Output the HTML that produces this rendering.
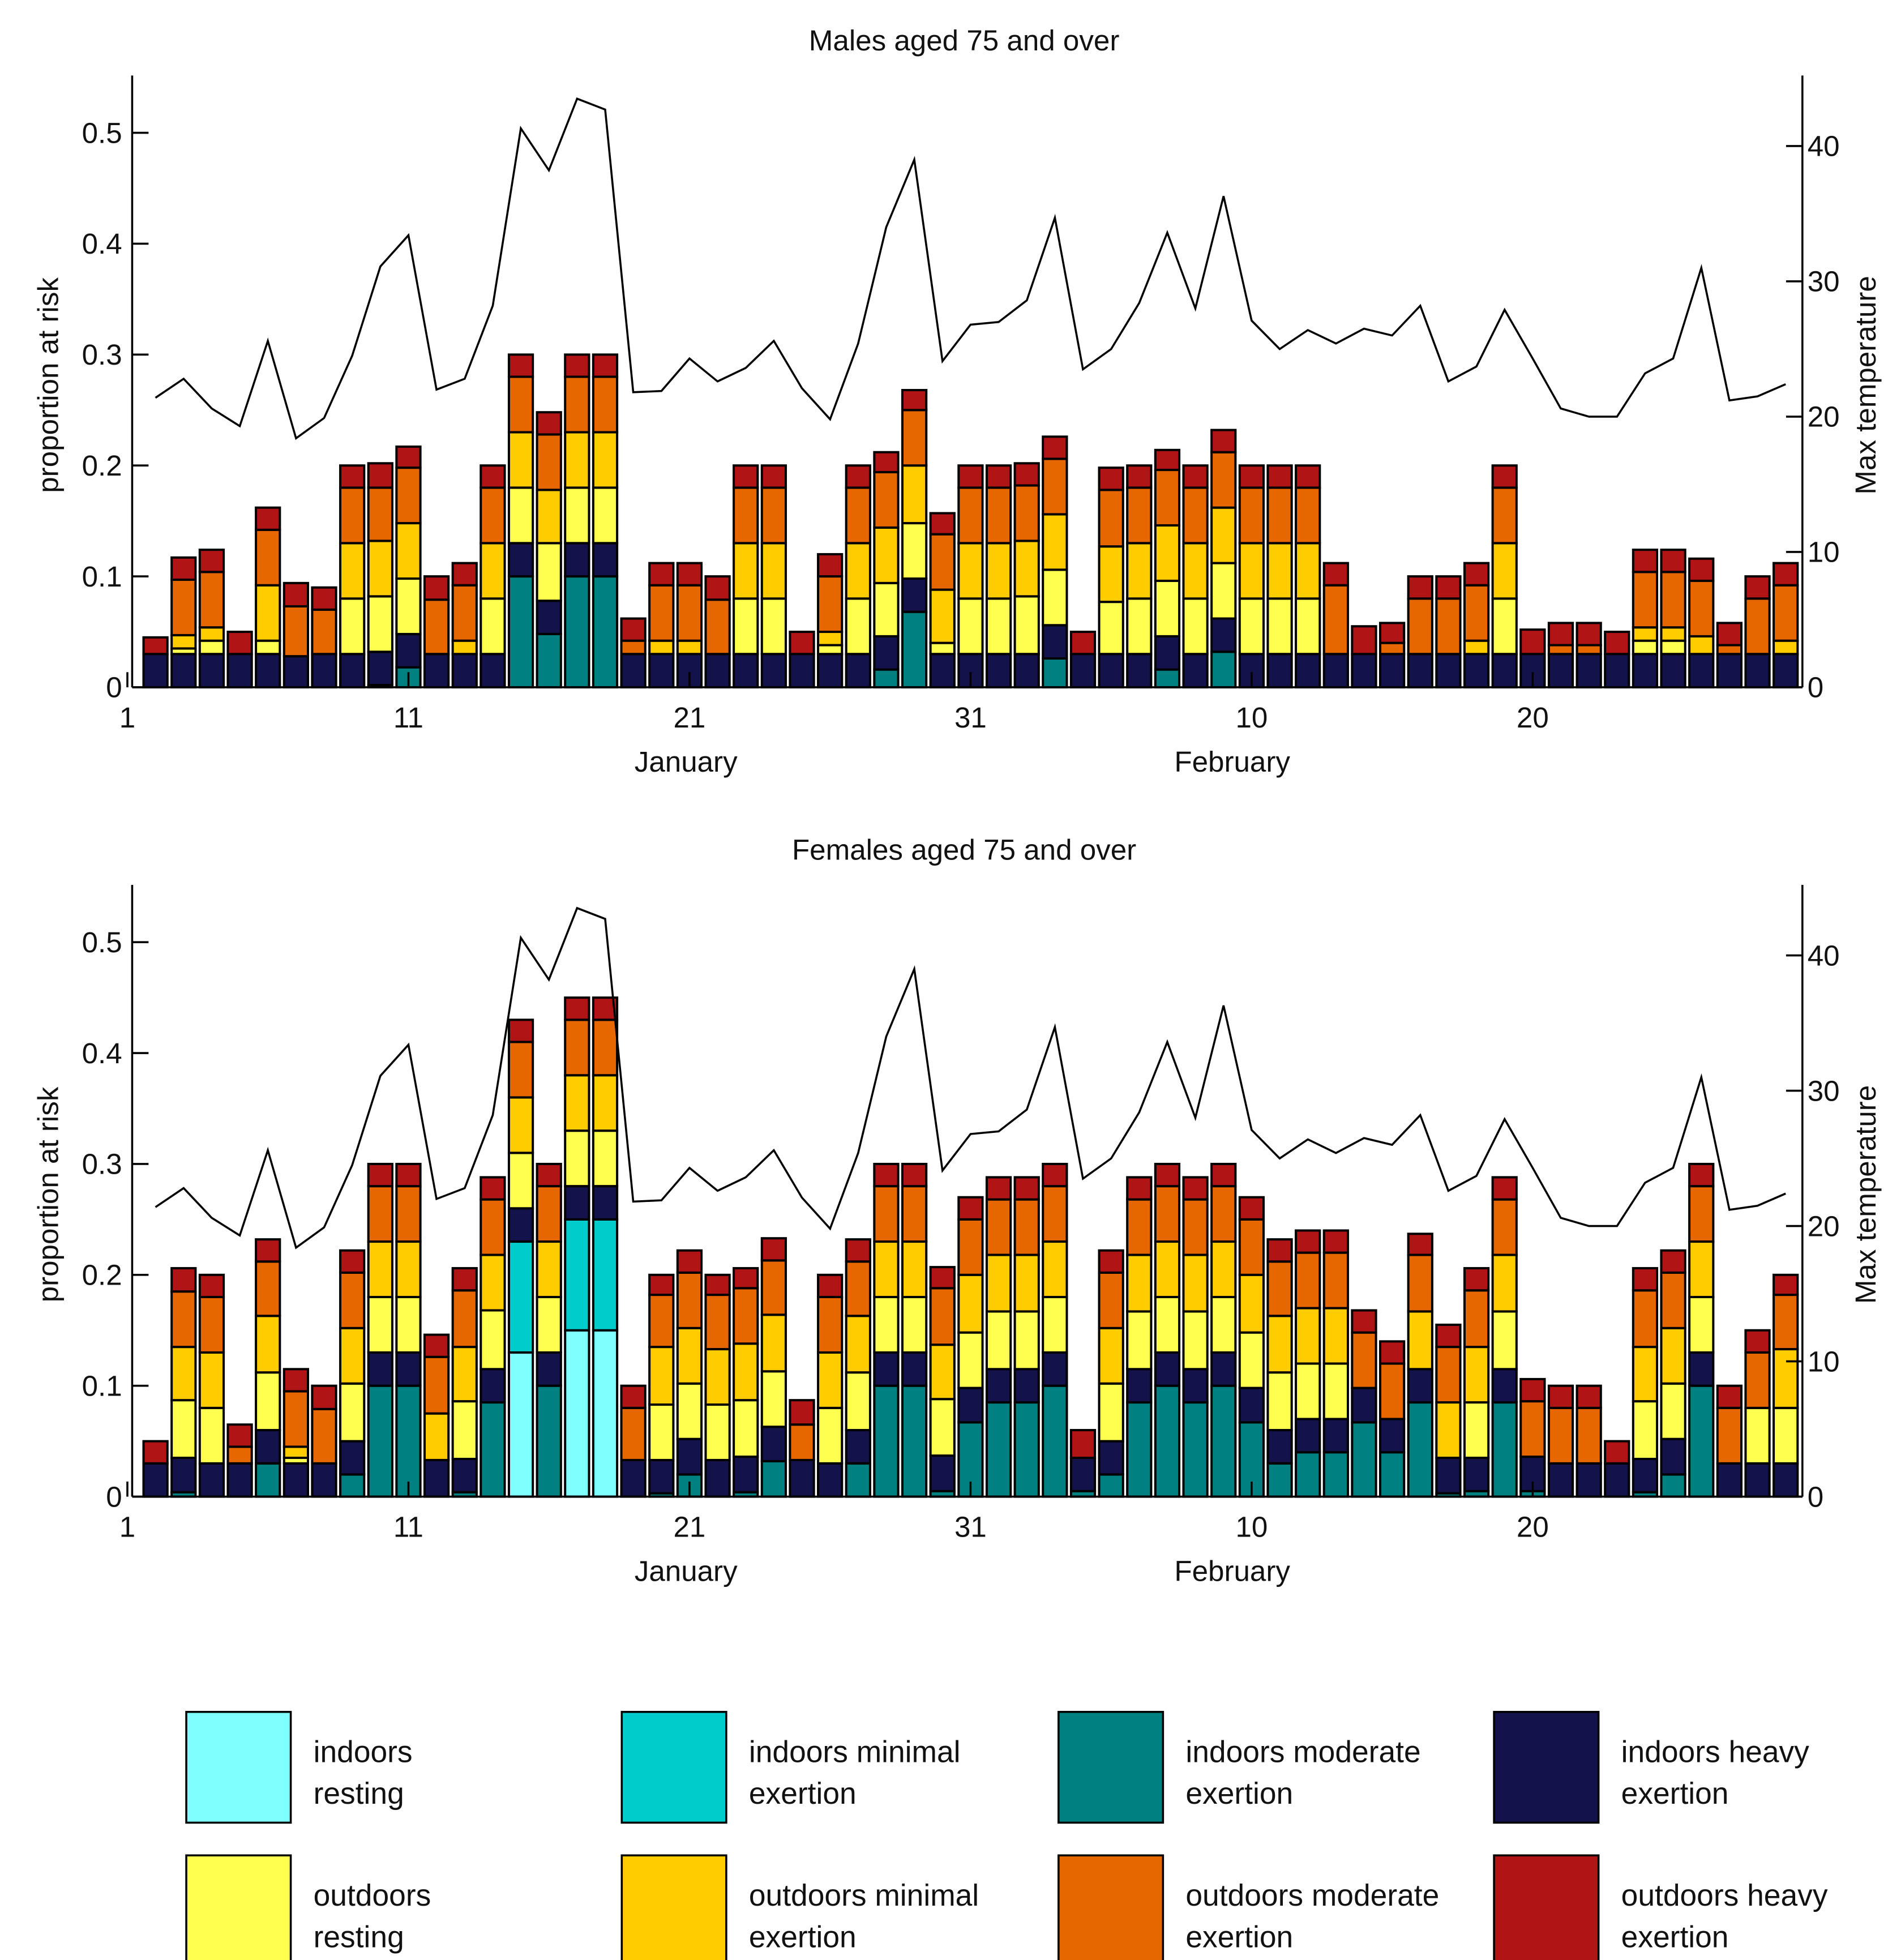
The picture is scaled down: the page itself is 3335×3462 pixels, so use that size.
<!DOCTYPE html>
<html><head><meta charset="utf-8"><style>
html,body{margin:0;padding:0;background:#fff}
svg{display:block}
text{font-family:"Liberation Sans",sans-serif;fill:#111}
</style></head>
<body>
<svg id="chart" width="3335" height="3462" viewBox="0 0 1500 1557.1" xmlns="http://www.w3.org/2000/svg">
<rect x="0" y="0" width="1500" height="1557.1" fill="#fff"/>
</svg>
<script>
// ---------- data ----------
const days = [];
for (let d = 2; d <= 60; d++) days.push(d);
const temps = [21.4,22.8,20.6,19.3,25.6,18.4,19.9,24.5,31.1,33.4,22.0,22.8,28.2,41.3,38.2,43.5,42.7,21.8,21.9,24.3,22.6,23.6,25.6,22.1,19.8,25.4,34.0,39.0,24.1,26.8,27.0,28.6,34.7,23.5,25.0,28.4,33.6,28.0,36.3,27.1,25.0,26.4,25.4,26.5,26.0,28.2,22.6,23.7,27.9,24.3,20.6,20.0,20.0,23.2,24.3,31.0,21.2,21.5,22.4];
const seriesNames = ["indoors resting","indoors minimal exertion","indoors moderate exertion","indoors heavy exertion","outdoors resting","outdoors minimal exertion","outdoors moderate exertion","outdoors heavy exertion"];
const seriesColors = ["#80ffff","#00cccc","#008080","#13124a","#ffff50","#ffcc00","#e66600","#b01414"];
const leftTicks = [0,0.1,0.2,0.3,0.4,0.5];
const leftTickLabels = ["0","0.1","0.2","0.3","0.4","0.5"];
const rightTicks = [0,10,20,30,40];
const xTicks = [1,11,21,31,41,51];
const xTickLabels = ["1","11","21","31","10","20"];
const z10 = [0,0,0,0,0,0,0,0,0,0];

const mIRest = new Array(59).fill(0);
const mIMin = new Array(59).fill(0);
const mIMod = [0,0,0,0,0,0,0,0,.002,.018, 0,0,0,.1,.048,.1,.1,0,0,0, 0,0,0,0,0,0,.016,.068,0,0, 0,0,.026,0,0,0,.016,0,.032,0, 0,0,0,0,0,0,0,0,0,0, 0,0,0,0,0,0,0,0,0];
const mIHeavy = [.03,.03,.03,.03,.03,.028,.03,.03,.03,.03, .03,.03,.03,.03,.03,.03,.03,.03,.03,.03, .03,.03,.03,.03,.03,.03,.03,.03,.03,.03, .03,.03,.03,.03,.03,.03,.03,.03,.03,.03, .03,.03,.03,.03,.03,.03,.03,.03,.03,.03, .03,.03,.03,.03,.03,.03,.03,.03,.03];
const mORest = [0,.005,.012,0,.012,0,0,.05,.05,.05, 0,0,.05,.05,.052,.05,.05,0,0,0, 0,.05,.05,0,.008,.05,.048,.05,.01,.05, .05,.052,.05,0,.047,.05,.05,.05,.05,.05, .05,.05,0,0,0,0,0,0,.05,0, 0,0,0,.012,.012,0,0,0,0];
const mOMin = [0,.012,.012,0,.05,0,0,.05,.05,.05, 0,.012,.05,.05,.048,.05,.05,0,.012,.012, 0,.05,.05,0,.012,.05,.05,.052,.048,.05, .05,.05,.05,0,.05,.05,.05,.05,.05,.05, .05,.05,0,0,0,0,0,.012,.05,0, 0,0,0,.012,.012,.016,0,0,.012];
const mOMod = [0,.05,.05,0,.05,.045,.04,.05,.048,.05, .049,.05,.05,.05,.05,.05,.05,.012,.05,.05, .049,.05,.05,0,.05,.05,.05,.05,.05,.05, .05,.05,.05,0,.051,.05,.05,.05,.05,.05, .05,.05,.062,0,.01,.05,.05,.05,.05,0, .008,.008,0,.05,.05,.05,.008,.05,.05];
const mOHeavy = [.015,.02,.02,.02,.02,.021,.02,.02,.022,.019, .021,.02,.02,.02,.02,.02,.02,.02,.02,.02, .021,.02,.02,.02,.02,.02,.018,.018,.019,.02, .02,.02,.02,.02,.02,.02,.018,.02,.02,.02, .02,.02,.02,.025,.018,.02,.02,.02,.02,.022, .02,.02,.02,.02,.02,.02,.02,.02,.02];

const fIRest = [0,0,0,0,0,0,0,0,0,0, 0,0,0,.13,0,.15,.15,0,0,0, 0,0,0,0,0,0,0,0,0,0, 0,0,0,0,0,0,0,0,0,0, 0,0,0,0,0,0,0,0,0,0, 0,0,0,0,0,0,0,0,0];
const fIMin = [0,0,0,0,0,0,0,0,0,0, 0,0,0,.1,0,.1,.1,0,0,0, 0,0,0,0,0,0,0,0,0,0, 0,0,0,0,0,0,0,0,0,0, 0,0,0,0,0,0,0,0,0,0, 0,0,0,0,0,0,0,0,0];
const fIMod = [0,.004,0,0,.03,0,0,.02,.1,.1, 0,.004,.085,0,.1,0,0,0,.003,.02, 0,.004,.032,0,0,.03,.1,.1,.005,.067, .085,.085,.1,.005,.02,.085,.1,.085,.1,.067, .03,.04,.04,.067,.04,.085,.003,.005,.085,.005, 0,0,0,.004,.02,.1,0,0,0];
const fIHeavy = [.03,.031,.03,.03,.03,.03,.03,.03,.03,.03, .033,.03,.03,.03,.03,.03,.03,.033,.03,.032, .033,.032,.031,.033,.03,.03,.03,.03,.032,.031, .03,.03,.03,.03,.03,.03,.03,.03,.03,.031, .03,.03,.03,.031,.03,.03,.032,.03,.03,.031, .03,.03,.03,.03,.032,.03,.03,.03,.03];
const fORest = [0,.052,.05,0,.052,.005,0,.052,.05,.05, 0,.052,.053,.05,.05,.05,.05,0,.05,.05, .05,.051,.05,0,.05,.052,.05,.05,.051,.05, .052,.052,.05,0,.052,.052,.05,.052,.05,.05, .052,.05,.05,0,0,0,0,.05,.052,0, 0,0,0,.052,.05,.05,0,.05,.05];
const fOMin = [0,.048,.05,0,.051,.01,0,.05,.05,.05, .042,.049,.05,.05,.05,.05,.05,0,.052,.05, .05,.051,.051,0,.05,.051,.05,.05,.049,.052, .051,.051,.05,0,.05,.051,.05,.051,.05,.052, .051,.05,.05,0,0,.052,.05,.05,.051,0, 0,0,0,.049,.05,.05,0,0,.053];
const fOMod = [0,.05,.05,.015,.049,.05,.049,.05,.05,.05, .051,.051,.05,.05,.05,.05,.05,.047,.047,.05, .049,.05,.049,.032,.05,.049,.05,.05,.051,.05, .05,.05,.05,0,.05,.05,.05,.05,.05,.05, .049,.05,.05,.05,.05,.051,.05,.051,.05,.05, .05,.05,0,.051,.05,.05,.05,.05,.049];
const fOHeavy = [.02,.021,.02,.02,.02,.02,.021,.02,.02,.02, .02,.02,.02,.02,.02,.02,.02,.02,.018,.02, .018,.018,.02,.022,.02,.02,.02,.02,.019,.02, .02,.02,.02,.025,.02,.02,.02,.02,.02,.02, .02,.02,.02,.02,.02,.019,.02,.02,.02,.02, .02,.02,.02,.02,.02,.02,.02,.02,.018];

const maleSeries = [mIRest,mIMin,mIMod,mIHeavy,mORest,mOMin,mOMod,mOHeavy];
const femaleSeries = [fIRest,fIMin,fIMod,fIHeavy,fORest,fOMin,fOMod,fOHeavy];

// ---------- drawing ----------
const NS = "http://www.w3.org/2000/svg";
const svg = document.getElementById("chart");
function mk(tag, attrs, parent) {
  const e = document.createElementNS(NS, tag);
  for (const k in attrs) e.setAttribute(k, attrs[k]);
  (parent || svg).appendChild(e);
  return e;
}
const X0 = 105, X1 = 1432;
function xScale(d) { return 101.2 + (d - 1) * 22.33; }

function panel(key, title, seriesArr, y0) {
  const g = mk("g", {});
  
  
  const yS = v => y0 - v * 881;
  const yT = t => y0 - t * 10.75;
  const yTop = y0 - 486;
  // title
  const t = mk("text", {x: 766, y: y0 - 506, "font-size": 23, "text-anchor": "middle"}, g);
  t.textContent = title;
  
  
  // bars
  const bw = 19;
  days.forEach((d, i) => {
    let cum = 0;
    const cx = xScale(d);
    seriesArr.forEach((s, si) => {
      const v = s[i];
      if (v <= 0) return;
      const r = mk("rect", {x: cx - bw / 2, y: yS(cum + v), width: bw, height: yS(cum) - yS(cum + v), fill: seriesColors[si], stroke: "#000", "stroke-width": 1.8}, g);
      
      
      cum += v;
    });
  });
  // temperature line
  const pts = days.map((d, i) => xScale(d).toFixed(1) + "," + yT(temps[i]).toFixed(1)).join(" ");
  const line = mk("polyline", {points: pts, fill: "none", stroke: "#000", "stroke-width": 1.6}, g);
  
  
  // axes
  const ax = mk("g", {stroke: "#000", "stroke-width": 1.6}, g);
  
  
  mk("line", {x1: X0, y1: yTop, x2: X0, y2: y0}, ax);
  mk("line", {x1: X1, y1: yTop, x2: X1, y2: y0}, ax);
  mk("line", {x1: X0, y1: y0, x2: X1, y2: y0}, ax);
  leftTicks.forEach((v, i) => {
    mk("line", {x1: X0, y1: yS(v), x2: X0 + 13, y2: yS(v)}, ax);
    const tl = mk("text", {x: X0 - 8, y: yS(v) + 8, "font-size": 23, "text-anchor": "end", stroke: "none"}, g);
    tl.textContent = leftTickLabels[i];
    
    
  });
  rightTicks.forEach(v => {
    mk("line", {x1: X1 - 13, y1: yT(v), x2: X1, y2: yT(v)}, ax);
    const tl = mk("text", {x: X1 + 4, y: yT(v) + 8, "font-size": 23, stroke: "none"}, g);
    tl.textContent = String(v);
    
    
  });
  xTicks.forEach((d, i) => {
    mk("line", {x1: xScale(d), y1: y0, x2: xScale(d), y2: y0 - 12}, ax);
    const tl = mk("text", {x: xScale(d), y: y0 + 32, "font-size": 23, "text-anchor": "middle", stroke: "none"}, g);
    tl.textContent = xTickLabels[i];
    
    
  });
  const jan = mk("text", {x: 545, y: y0 + 67, "font-size": 23, "text-anchor": "middle"}, g);
  jan.textContent = "January";
  
  
  const feb = mk("text", {x: 979, y: y0 + 67, "font-size": 23, "text-anchor": "middle"}, g);
  feb.textContent = "February";
  
  
  const yl = mk("text", {x: 0, y: 0, "font-size": 23, "text-anchor": "middle", transform: "translate(46," + (y0 - 240) + ") rotate(-90)"}, g);
  yl.textContent = "proportion at risk";
  
  
  const yr = mk("text", {x: 0, y: 0, "font-size": 23, "text-anchor": "middle", transform: "translate(1490," + (y0 - 240) + ") rotate(-90)"}, g);
  yr.textContent = "Max temperature";
  
  
}
panel("males", "Males aged 75 and over", maleSeries, 546);
panel("females", "Females aged 75 and over", femaleSeries, 1189);

// legend
const lg = mk("g", {});


const legX = [148, 494, 841, 1187];
const legY = [1360, 1474];
seriesNames.forEach((n, i) => {
  const col = i % 4, row = Math.floor(i / 4);
  const ent = mk("g", {}, lg);
  
  
  mk("rect", {x: legX[col], y: legY[row], width: 83, height: 88, fill: seriesColors[i], stroke: "#000", "stroke-width": 1.6}, ent);
  const words = n.split(" ");
  const l1 = words[0], l2 = words.slice(1).join(" ");
  const t1 = mk("text", {x: legX[col] + 101, y: legY[row] + 40, "font-size": 24}, ent);
  t1.textContent = l1 + (l2 === "resting" ? "" : " " + words[1]);
  const t2 = mk("text", {x: legX[col] + 101, y: legY[row] + 73, "font-size": 24}, ent);
  t2.textContent = l2 === "resting" ? "resting" : words.slice(2).join(" ");
});
</script>
</body></html>
